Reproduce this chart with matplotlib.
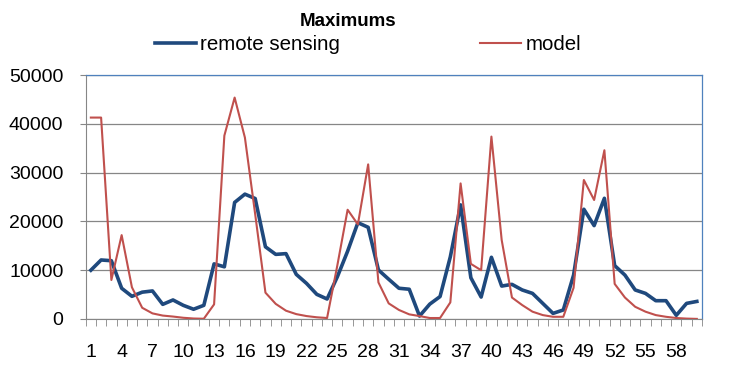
import matplotlib.pyplot as plt

plt.rcParams['font.family'] = ['Liberation Sans', 'DejaVu Sans']

# time steps 1..60
steps = list(range(1, 61))

remote_sensing = [10000, 12100, 11950, 6300, 4650, 5500, 5750, 3000, 3900, 2800,
                  2000, 2800, 11300, 10700, 23900, 25600, 24700, 14800, 13250, 13400,
                  9150, 7300, 5050, 4100, 8650, 13900, 19750, 18800, 10050, 8150,
                  6300, 6100, 600, 3050, 4600, 12750, 23400, 8450, 4500, 12650,
                  6750, 7100, 5950, 5250, 3200, 1150, 1850, 9000, 22500, 19150,
                  24750, 10950, 9000, 5950, 5250, 3750, 3750, 750, 3200, 3600]

model = [41300, 41300, 8000, 17200, 6500, 2300, 1150, 700, 500, 250,
         100, 50, 3000, 37600, 45400, 37200, 21500, 5400, 3100, 1700,
         1000, 600, 350, 200, 11000, 22400, 19400, 31700, 7500, 3200,
         1850, 950, 600, 200, 200, 3400, 27800, 11300, 10000, 37400,
         16200, 4400, 2850, 1500, 800, 450, 450, 6400, 28500, 24400,
         34600, 7200, 4400, 2500, 1500, 800, 450, 200, 80, 20]

ytick_vals = [0, 10000, 20000, 30000, 40000, 50000]
xtick_labels = steps[::3]

fig = plt.figure(figsize=(7.3, 3.72), dpi=100)
ax = fig.add_axes([0.1174, 0.1425, 0.8442, 0.6555])

l1, = ax.plot(steps, remote_sensing, color='#1F497D', lw=2.6, solid_joinstyle='round',
              label='remote sensing', zorder=3)
l2, = ax.plot(steps, model, color='#C0504D', lw=1.5, label='model', zorder=4)

ax.set_xlim(0.5, 60.5)
ax.set_ylim(0, 50000)
ax.set_yticks(ytick_vals)
ax.set_yticklabels([str(v) for v in ytick_vals], fontsize=14)
ax.set_xticks(xtick_labels)
ax.set_xticklabels([str(v) for v in xtick_labels], fontsize=14)
ax.set_xticks([i + 0.5 for i in range(0, 61)], minor=True)
ax.tick_params(axis='x', which='major', length=0, pad=18)
ax.tick_params(axis='x', which='minor', length=5, color='#868686', direction='out')
ax.tick_params(axis='y', length=4, color='#868686', pad=12)

ax.grid(axis='y', color='#868686', lw=0.9, zorder=0)
ax.set_axisbelow(True)
for s in ['left', 'bottom']:
    ax.spines[s].set_color('#868686')
for s in ['top', 'right']:
    ax.spines[s].set_color('#4F81BD')
    ax.spines[s].set_linewidth(0.9)

fig.text(348 / 730, 1 - 21 / 372, 'Maximums', ha='center', va='center',
         fontsize=13.5, fontweight='bold')
fig.legend(handles=[l1, l2], loc='center', bbox_to_anchor=(368 / 730, 1 - 45 / 372),
           ncol=2, frameon=False, fontsize=14.8, handlelength=2.0, handletextpad=0.2,
           columnspacing=6.8, borderpad=0)

fig.savefig('out.png', dpi=100)
